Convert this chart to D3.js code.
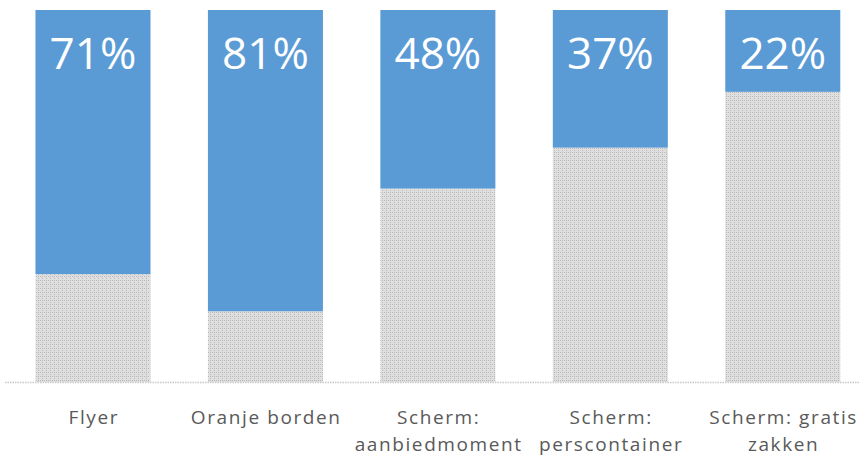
<!DOCTYPE html>
<html><head><meta charset="utf-8">
<script src="https://cdn.jsdelivr.net/npm/d3@7"></script>
<style>body{margin:0;background:#fff}svg{display:block}</style>
</head><body>
<svg id="c" width="859" height="459"></svg>
<script>
const categories = ["Flyer", "Oranje borden", "Scherm: aanbiedmoment", "Scherm: perscontainer", "Scherm: gratis zakken"];
const labelLines = [["Flyer"], ["Oranje borden"], ["Scherm:", "aanbiedmoment"], ["Scherm:", "perscontainer"], ["Scherm: gratis", "zakken"]];
const yesValues = [71, 81, 48, 37, 22];
const restValues = yesValues.map(v => 100 - v);

const svg = d3.select("#c");
const W = 859, H = 459;
const m = {top: 10, bottom: 77, left: 6.75, right: -10};
const x = d3.scaleBand().domain(categories).range([m.left, W - m.right]).paddingInner(0.333).paddingOuter(0.1665);
const y = d3.scaleLinear().domain([0, 100]).range([H - m.bottom, m.top]);

const defs = svg.append("defs");
const pat = defs.append("pattern").attr("id", "dots").attr("width", 4).attr("height", 4).attr("patternUnits", "userSpaceOnUse");
pat.append("rect").attr("width", 4).attr("height", 4).attr("fill", "#dfdfdf");
[[0,0],[2,2],[2,0]].forEach(([px,py]) => pat.append("rect").attr("x", px).attr("y", py).attr("width", 1).attr("height", 1).attr("fill", "#b9b9b9"));

const g = svg.append("g");
g.selectAll("rect.rest").data(categories).join("rect").attr("class", "rest")
  .attr("x", d => x(d)).attr("width", x.bandwidth())
  .attr("y", (d, i) => y(restValues[i])).attr("height", (d, i) => y(0) - y(restValues[i]))
  .attr("fill", "url(#dots)");
g.selectAll("rect.yes").data(categories).join("rect").attr("class", "yes")
  .attr("x", d => x(d)).attr("width", x.bandwidth())
  .attr("y", y(100)).attr("height", (d, i) => y(restValues[i]) - y(100))
  .attr("fill", "#5b9bd5");

g.selectAll("text.val").data(categories).join("text").attr("class", "val")
  .attr("x", d => x(d) + x.bandwidth() / 2).attr("y", 69)
  .attr("text-anchor", "middle").attr("fill", "#fff")
  .attr("font-family", "'Open Sans', sans-serif").attr("font-size", 44)
  .text((d, i) => yesValues[i] + "%");

svg.append("line").attr("x1", 5).attr("x2", W).attr("y1", y(0) + 0.5).attr("y2", y(0) + 0.5)
  .attr("stroke", "#c8c8c8").attr("stroke-width", 1.5).attr("stroke-dasharray", "1.5,1");

const ls = 1.6;
const lab = svg.selectAll("text.cat").data(categories).join("text").attr("class", "cat")
  .attr("text-anchor", "middle").attr("fill", "#595959")
  .attr("font-family", "'Open Sans', sans-serif").attr("font-size", 19)
  .attr("letter-spacing", ls);
lab.each(function(d, i) {
  const t = d3.select(this);
  labelLines[i].forEach((l, k) => {
    t.append("tspan").attr("x", x(d) + x.bandwidth() / 2 + ls / 2).attr("y", 424 + k * 27).text(l);
  });
});
</script>
</body></html>
